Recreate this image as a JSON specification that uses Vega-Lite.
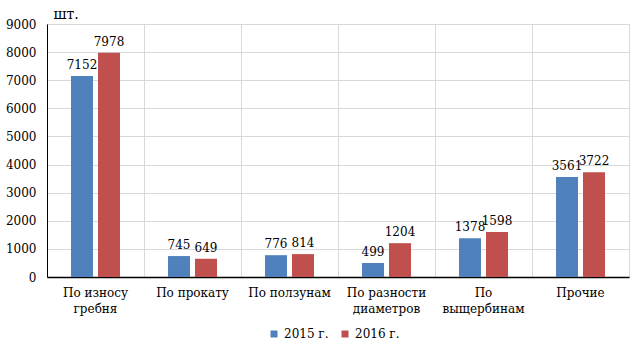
{
  "$schema": "https://vega.github.io/schema/vega-lite/v6.json",
  "width": 582,
  "height": 253,
  "autosize": {"type": "none"},
  "padding": {"left": 47, "top": 24, "right": 14, "bottom": 77},
  "background": "white",
  "config": {
    "font": "DejaVu Serif",
    "view": {"stroke": "#d9d9d9", "strokeWidth": 1}
  },
  "data": {
    "values": [
      {"cat": "По износу|гребня", "year": "2015 г.", "value": 7152},
      {"cat": "По износу|гребня", "year": "2016 г.", "value": 7978},
      {"cat": "По прокату", "year": "2015 г.", "value": 745},
      {"cat": "По прокату", "year": "2016 г.", "value": 649},
      {"cat": "По ползунам", "year": "2015 г.", "value": 776},
      {"cat": "По ползунам", "year": "2016 г.", "value": 814},
      {"cat": "По разности|диаметров", "year": "2015 г.", "value": 499},
      {"cat": "По разности|диаметров", "year": "2016 г.", "value": 1204},
      {"cat": "По|выщербинам", "year": "2015 г.", "value": 1378},
      {"cat": "По|выщербинам", "year": "2016 г.", "value": 1598},
      {"cat": "Прочие", "year": "2015 г.", "value": 3561},
      {"cat": "Прочие", "year": "2016 г.", "value": 3722}
    ]
  },
  "encoding": {
    "x": {
      "field": "cat",
      "type": "nominal",
      "sort": null,
      "scale": {"paddingInner": 0, "paddingOuter": 0},
      "axis": {
        "title": null,
        "labelAngle": 0,
        "labelExpr": "split(datum.value, '|')",
        "labelFontSize": 12,
        "labelColor": "#000",
        "labelLineHeight": 16,
        "labelPadding": 10,
        "labelBaseline": "top",
        "ticks": false,
        "domainColor": "#000",
        "domainWidth": 1.5,
        "grid": true,
        "gridColor": "#d9d9d9",
        "bandPosition": 0
      }
    },
    "xOffset": {
      "field": "year",
      "type": "nominal",
      "scale": {"paddingInner": 0.185, "paddingOuter": 0.889}
    },
    "y": {
      "field": "value",
      "type": "quantitative",
      "scale": {"domain": [0, 9000]},
      "axis": {
        "title": "шт.",
        "titleAngle": 0,
        "titleX": 6,
        "titleY": -6,
        "titleAlign": "left",
        "titleBaseline": "alphabetic",
        "titleFontSize": 14,
        "titleFontWeight": "normal",
        "titleColor": "#000",
        "values": [0, 1000, 2000, 3000, 4000, 5000, 6000, 7000, 8000, 9000],
        "format": "d",
        "labelFontSize": 12,
        "labelColor": "#000",
        "labelPadding": 11,
        "ticks": false,
        "domainColor": "#000",
        "domainWidth": 1,
        "gridColor": "#d9d9d9"
      }
    }
  },
  "layer": [
    {
      "mark": {"type": "bar"},
      "encoding": {
        "color": {
          "field": "year",
          "type": "nominal",
          "scale": {"range": ["#4f81bd", "#c0504d"]},
          "legend": {
            "title": null,
            "orient": "none",
            "legendX": 221,
            "legendY": 304,
            "direction": "horizontal",
            "symbolType": "square",
            "symbolSize": 49,
            "symbolStrokeWidth": 0,
            "labelFontSize": 12,
            "labelColor": "#000",
            "labelOffset": 4,
            "columnPadding": 10
          }
        }
      }
    },
    {
      "mark": {"type": "text", "baseline": "bottom", "dy": -4, "fontSize": 12, "color": "#000"},
      "encoding": {"text": {"field": "value", "type": "quantitative", "format": "d"}}
    }
  ]
}
